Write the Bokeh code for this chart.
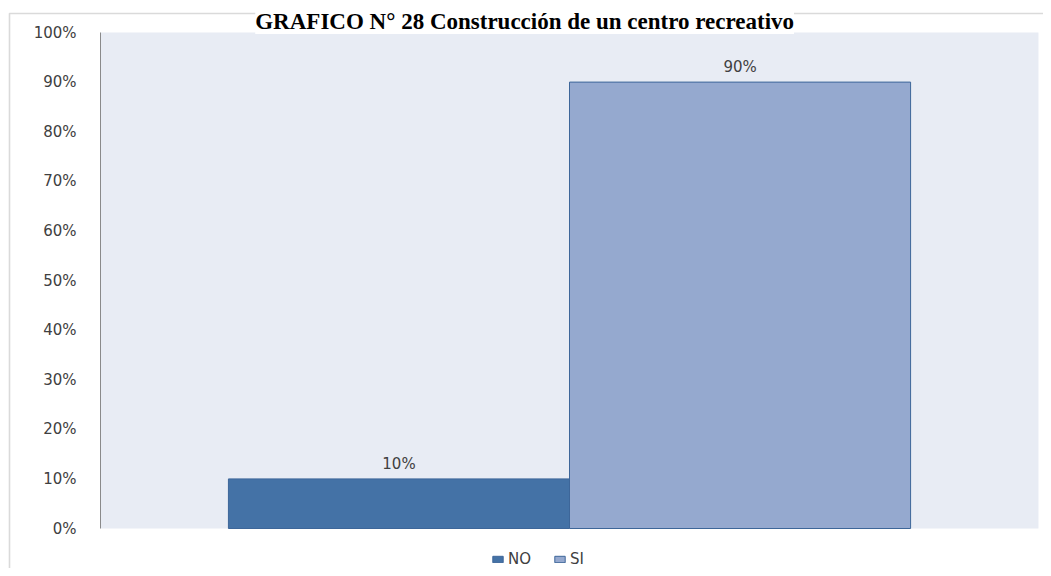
from bokeh.plotting import figure
from bokeh.models import (ColumnDataSource, Range1d, FixedTicker,
                          NumeralTickFormatter, LabelSet, Legend, LegendItem,
                          BoxAnnotation, Label)
from bokeh.core.properties import value
from bokeh.embed import file_html
from bokeh.resources import INLINE

# ---- data ----
title_text = "GRAFICO N° 28 Construcción de un centro recreativo"
categories = ["NO", "SI"]
values = [0.10, 0.90]
colors = ["#4472a6", "#95a9cf"]
y_ticks = [0.0, 0.1, 0.2, 0.3, 0.4, 0.5, 0.6, 0.7, 0.8, 0.9, 1.0]

# ---- layout constants (styling, not data) ----
W, H = 1043, 568
PX_X = 341.0                  # pixels per bar slot
PAD = 0.375                   # plot-area padding on each side (bar slots)
AREA_L_PX, AREA_R_PX = 100, 1038  # plot-area left/right on canvas
Y0_PX, Y1_PX = 528, 32            # 0% and 100% on canvas
BOX_L_PX, BOX_T_PX = 9, 13        # outer chart box left / top edges
TITLE_X_PX, TITLE_BASE_PX = 524, 21

n = len(categories)
xs = [i + 0.5 for i in range(n)]
x_start = -PAD - AREA_L_PX / PX_X
x_end = n + PAD + (W - AREA_R_PX) / PX_X
PY = float(Y0_PX - Y1_PX)
y_end = 1 + Y1_PX / PY
y_start = -(H - Y0_PX) / PY


def xd(px):
    return x_start + px / PX_X


def yd(px):
    return y_end - px / PY


src = ColumnDataSource(dict(
    x=xs, cat=categories, val=values, color=colors,
    lbl=[f"{v*100:.0f}%" for v in values],
))

p = figure(width=W, height=H, output_backend="svg", toolbar_location=None,
           x_range=Range1d(x_start, x_end), y_range=Range1d(y_start, y_end),
           min_border_left=0, min_border_right=0, min_border_top=0,
           min_border_bottom=0)
p.title.visible = False

p.background_fill_color = "white"
p.border_fill_color = "white"
p.outline_line_color = None
p.xgrid.visible = False
p.ygrid.visible = False
p.xaxis.visible = False

# outer chart box (only its left and top edges fall inside the picture)
p.add_layout(BoxAnnotation(left=xd(BOX_L_PX), right=x_end + 1,
                           top=yd(BOX_T_PX), bottom=y_start - 1,
                           fill_alpha=0, line_color="#858585", line_width=1.6,
                           level="underlay"))

# light plot area
p.add_layout(BoxAnnotation(left=-PAD, right=n + PAD, bottom=0, top=1,
                           fill_color="#e8ecf4", fill_alpha=1,
                           line_color=None, level="underlay"))

# title
p.add_layout(Label(x=xd(TITLE_X_PX), y=yd(TITLE_BASE_PX), text=title_text,
                   text_align="center", text_baseline="alphabetic",
                   text_font="Liberation Serif", text_font_style="bold",
                   text_font_size="23px", text_color="#000000",
                   background_fill_color="white", background_fill_alpha=1))

ya = p.yaxis[0]
ya.fixed_location = -PAD
ya.bounds = (0, 1)
ya.ticker = FixedTicker(ticks=y_ticks)
ya.formatter = NumeralTickFormatter(format="0%")
ya.major_tick_line_color = None
ya.minor_tick_line_color = None
ya.axis_line_color = "#8a8a8a"
ya.axis_line_width = 1
ya.major_label_text_font = "DejaVu Sans"
ya.major_label_text_font_size = "15px"
ya.major_label_text_color = "#404040"
ya.major_label_standoff = 18

items = []
for i, c in enumerate(categories):
    r = p.vbar(x=[xs[i]], top=[values[i]], width=1.0, fill_color=colors[i],
               line_color="#3d6699", line_width=1)
    items.append(LegendItem(label=c, renderers=[r]))

labels = LabelSet(x="x", y="val", text="lbl", source=src, y_offset=15,
                  text_align="center", text_baseline="middle",
                  text_font=value("DejaVu Sans"), text_font_size=value("15px"),
                  text_color="#404040")
p.add_layout(labels)

legend = Legend(items=items, orientation="horizontal", location=(491, 0),
                glyph_width=13, glyph_height=8, label_text_font="DejaVu Sans",
                label_text_font_size="15px", label_text_color="#404040",
                border_line_color=None, background_fill_alpha=0,
                spacing=22, label_standoff=4, padding=0, margin=0)
p.add_layout(legend, "center")

open("out.html", "w").write(file_html(p, INLINE))
